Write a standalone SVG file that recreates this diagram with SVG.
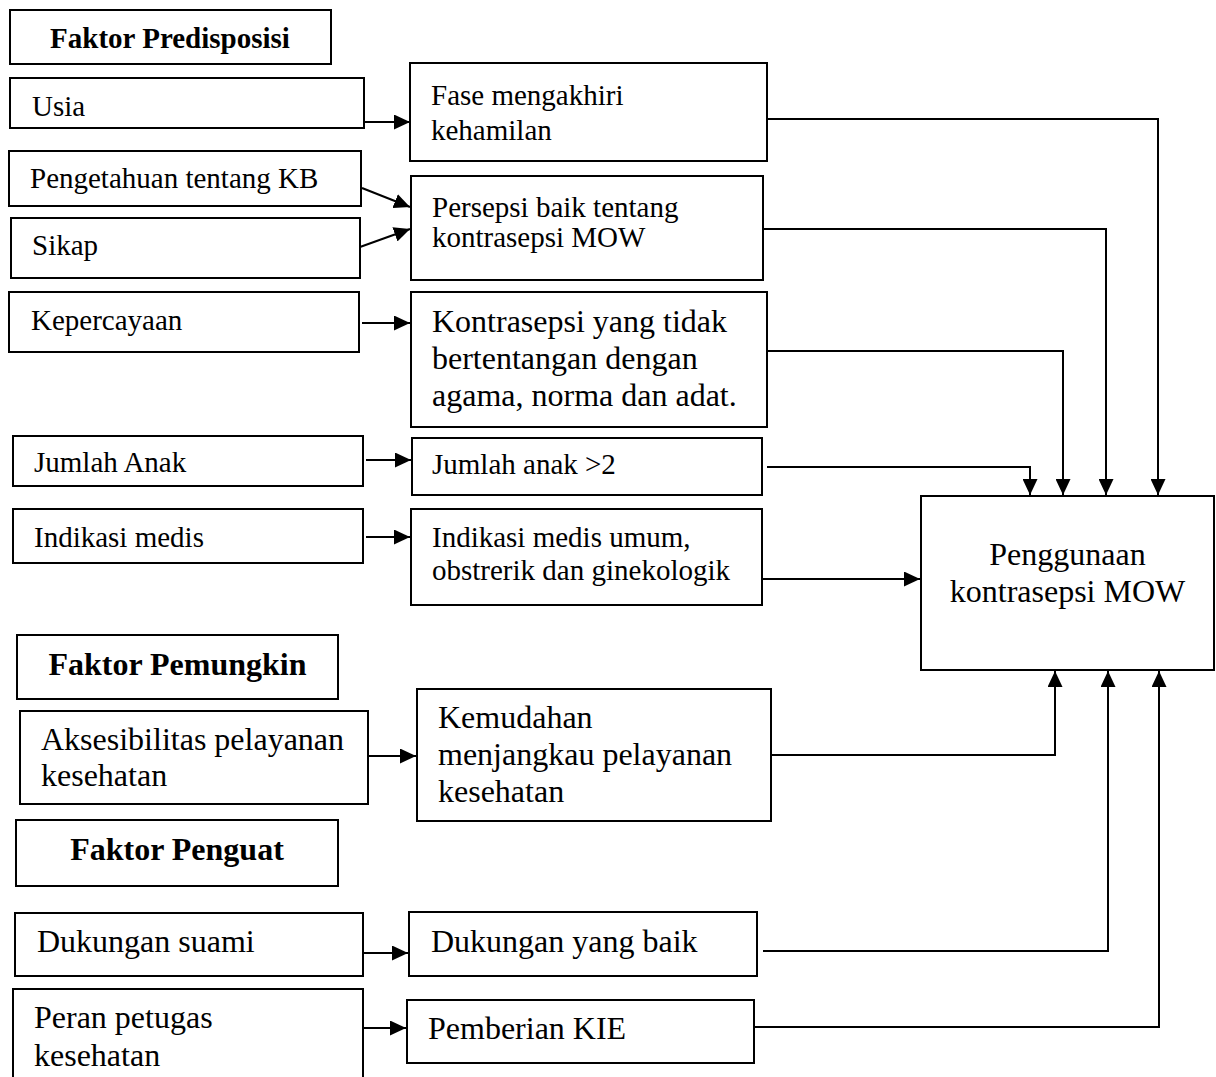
<svg xmlns="http://www.w3.org/2000/svg" width="1216" height="1077" viewBox="0 0 1216 1077">
<style>
.box{fill:#fff;stroke:#000;stroke-width:2}
.t{font-family:"Liberation Serif","Times New Roman",serif;fill:#000}
.s29{font-size:29px}
.s32{font-size:32px}
.b{font-weight:bold}
.c{text-anchor:middle}
.ln{fill:none;stroke:#000;stroke-width:2}
</style>
<defs>
<marker id="ah" markerUnits="userSpaceOnUse" markerWidth="16" markerHeight="15" refX="16" refY="7.5" orient="auto">
<path d="M0,0 L16,7.5 L0,15 z" fill="#000"/>
</marker>
</defs>
<rect width="1216" height="1077" fill="#fff"/>

<g id="connectors">
<path class="ln" d="M364,122 H410" marker-end="url(#ah)"/>
<path class="ln" d="M362,188 L410,207" marker-end="url(#ah)"/>
<path class="ln" d="M360,247 L410,229" marker-end="url(#ah)"/>
<path class="ln" d="M362,323 H410" marker-end="url(#ah)"/>
<path class="ln" d="M366,460 H411" marker-end="url(#ah)"/>
<path class="ln" d="M366,537 H410" marker-end="url(#ah)"/>
<path class="ln" d="M767,119 H1158 V495" marker-end="url(#ah)"/>
<path class="ln" d="M763,229 H1106 V495" marker-end="url(#ah)"/>
<path class="ln" d="M767,351 H1063 V495" marker-end="url(#ah)"/>
<path class="ln" d="M767,467 H1030 V495" marker-end="url(#ah)"/>
<path class="ln" d="M763,579 H920" marker-end="url(#ah)"/>
<path class="ln" d="M368,756 H416" marker-end="url(#ah)"/>
<path class="ln" d="M771,755 H1055 V671" marker-end="url(#ah)"/>
<path class="ln" d="M363,953 H408" marker-end="url(#ah)"/>
<path class="ln" d="M763,951 H1108 V671" marker-end="url(#ah)"/>
<path class="ln" d="M363,1028 H406" marker-end="url(#ah)"/>
<path class="ln" d="M754,1027 H1159 V671" marker-end="url(#ah)"/>
</g>

<g id="faktor-predisposisi">
<rect class="box" x="10" y="10" width="321" height="54"/>
<text class="t s29 b c" x="170" y="48">Faktor Predisposisi</text>
</g>
<g id="usia">
<rect class="box" x="10" y="78" width="354" height="50"/>
<text class="t s29" x="32" y="116">Usia</text>
</g>
<g id="fase">
<rect class="box" x="410" y="63" width="357" height="98"/>
<text class="t s29" x="431" y="105">Fase mengakhiri</text>
<text class="t s29" x="431" y="140">kehamilan</text>
</g>
<g id="pengetahuan">
<rect class="box" x="9" y="151" width="352" height="55"/>
<text class="t s29" x="30" y="188">Pengetahuan tentang KB</text>
</g>
<g id="persepsi">
<rect class="box" x="411" y="176" width="352" height="104"/>
<text class="t s29" x="432" y="217">Persepsi baik tentang</text>
<text class="t s29" x="432" y="247">kontrasepsi MOW</text>
</g>
<g id="sikap">
<rect class="box" x="11" y="218" width="349" height="60"/>
<text class="t s29" x="32" y="255">Sikap</text>
</g>
<g id="kepercayaan">
<rect class="box" x="9" y="292" width="350" height="60"/>
<text class="t s29" x="31" y="330">Kepercayaan</text>
</g>
<g id="kontrasepsi">
<rect class="box" x="411" y="292" width="356" height="135"/>
<text class="t s32" x="432" y="332">Kontrasepsi yang tidak</text>
<text class="t s32" x="432" y="369">bertentangan dengan</text>
<text class="t s32" x="432" y="406">agama, norma dan adat.</text>
</g>
<g id="jumlah-anak">
<rect class="box" x="13" y="436" width="350" height="50"/>
<text class="t s29" x="34" y="472">Jumlah Anak</text>
</g>
<g id="jumlah-anak-2">
<rect class="box" x="412" y="438" width="350" height="57"/>
<text class="t s29" x="432" y="474">Jumlah anak &gt;2</text>
</g>
<g id="indikasi-medis">
<rect class="box" x="13" y="509" width="350" height="54"/>
<text class="t s29" x="34" y="547">Indikasi medis</text>
</g>
<g id="indikasi-medis-umum">
<rect class="box" x="411" y="509" width="351" height="96"/>
<text class="t s29" x="432" y="547">Indikasi medis umum,</text>
<text class="t s29" x="432" y="580">obstrerik dan ginekologik</text>
</g>
<g id="penggunaan">
<rect class="box" x="921" y="496" width="293" height="174"/>
<text class="t s32 c" x="1067.5" y="565">Penggunaan</text>
<text class="t s32 c" x="1067.5" y="602">kontrasepsi MOW</text>
</g>
<g id="faktor-pemungkin">
<rect class="box" x="17" y="635" width="321" height="64"/>
<text class="t s32 b c" x="177.5" y="675">Faktor Pemungkin</text>
</g>
<g id="aksesibilitas">
<rect class="box" x="20" y="711" width="348" height="93"/>
<text class="t s32" x="41" y="750">Aksesibilitas pelayanan</text>
<text class="t s32" x="41" y="786">kesehatan</text>
</g>
<g id="kemudahan">
<rect class="box" x="417" y="689" width="354" height="132"/>
<text class="t s32" x="438" y="728">Kemudahan</text>
<text class="t s32" x="438" y="765">menjangkau pelayanan</text>
<text class="t s32" x="438" y="802">kesehatan</text>
</g>
<g id="faktor-penguat">
<rect class="box" x="16" y="820" width="322" height="66"/>
<text class="t s32 b c" x="177" y="860">Faktor Penguat</text>
</g>
<g id="dukungan-suami">
<rect class="box" x="15" y="913" width="348" height="63"/>
<text class="t s32" x="37" y="952">Dukungan suami</text>
</g>
<g id="dukungan-baik">
<rect class="box" x="409" y="912" width="348" height="64"/>
<text class="t s32" x="431" y="952">Dukungan yang baik</text>
</g>
<g id="peran-petugas">
<rect class="box" x="13" y="989" width="350" height="100"/>
<text class="t s32" x="34" y="1028">Peran petugas</text>
<text class="t s32" x="34" y="1066">kesehatan</text>
</g>
<g id="pemberian-kie">
<rect class="box" x="407" y="1000" width="347" height="63"/>
<text class="t s32" x="428" y="1039">Pemberian KIE</text>
</g>
</svg>
